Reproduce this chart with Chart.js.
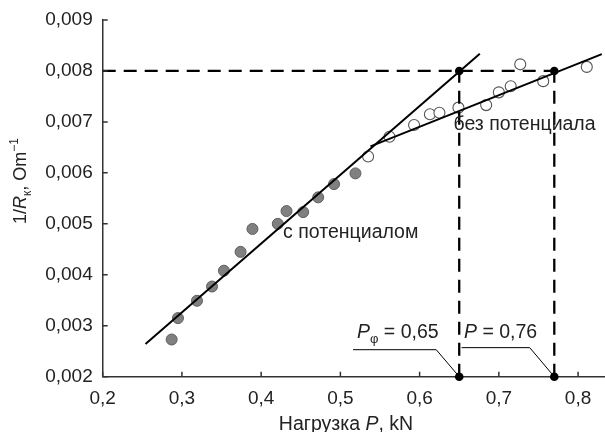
<!DOCTYPE html>
<html><head><meta charset="utf-8">
<script src="https://cdn.jsdelivr.net/npm/chart.js@4/dist/chart.umd.min.js"></script>
<style>html,body{margin:0;padding:0;background:#fff}</style>
</head><body>
<canvas id="c" width="605" height="432"></canvas>
<script>
// ---- data ----
const xTickValues = [0.2, 0.3, 0.4, 0.5, 0.6, 0.7, 0.8];
const yTickValues = [0.002, 0.003, 0.004, 0.005, 0.006, 0.007, 0.008, 0.009];
const withPotentialX = [0.287, 0.295, 0.319, 0.338, 0.353, 0.374, 0.389, 0.421, 0.432, 0.453, 0.472, 0.492, 0.519];
const withPotentialY = [0.00273, 0.00315, 0.00349, 0.00377, 0.00408, 0.00445, 0.00490, 0.00500, 0.00525, 0.00523, 0.00552, 0.00578, 0.00599];
const withoutPotentialX = [0.535, 0.562, 0.593, 0.613, 0.625, 0.649, 0.684, 0.700, 0.715, 0.727, 0.756, 0.811];
const withoutPotentialY = [0.00632, 0.00671, 0.00694, 0.00715, 0.00718, 0.00728, 0.00733, 0.00758, 0.00770, 0.00813, 0.00780, 0.00808];
const fitWithX = [0.254, 0.676];
const fitWithY = [0.00264, 0.00834];
const fitWithoutX = [0.538, 0.830];
const fitWithoutY = [0.00652, 0.00833];
const markerX = [0.65, 0.77];
const markerLevel = 0.008;
const baseLevel = 0.002;
const leaderY = [0.00253, 0.00257];
const leaderStartX = [0.516, 0.653];
const leaderKneeX = [0.621, 0.739];
const labelWith = 'с потенциалом';
const labelWithout = 'без потенциала';
const markerValueText = ['= 0,65', '= 0,76'];
const xTitleParts = ['Нагрузка ', 'P', ', kN'];
const yTitleParts = ['1/', 'R', 'к', ', Om', '−1'];

const FONT = "'Liberation Sans', Arial, sans-serif";
const TXT = '#222';
const FS = 19.5;
const pts = (xs, ys) => xs.map((x, i) => ({x, y: ys[i]}));
const fmt = v => v.toFixed(v < 0.1 ? 3 : 1).replace('.', ',');

const lineDs = (data, opts) => Object.assign({type: 'line', data, showLine: true, pointRadius: 0,
  borderColor: '#000', borderWidth: 2, fill: false, tension: 0}, opts);

const datasets = [
  {data: [...markerX.map(x => ({x, y: markerLevel})), ...markerX.map(x => ({x, y: baseLevel}))],
   pointRadius: 4.3, pointBackgroundColor: '#000', pointBorderColor: '#000', borderWidth: 0, clip: false},
  lineDs(pts(fitWithX, fitWithY)),
  lineDs(pts(fitWithoutX, fitWithoutY)),
  lineDs([{x: 0.2, y: markerLevel}, {x: markerX[1], y: markerLevel}], {borderDash: [13, 8], borderWidth: 2.3}),
  lineDs([{x: markerX[0], y: baseLevel}, {x: markerX[0], y: markerLevel}], {borderDash: [13, 8], borderWidth: 2.3}),
  lineDs([{x: markerX[1], y: baseLevel}, {x: markerX[1], y: markerLevel}], {borderDash: [13, 8], borderWidth: 2.3}),
  lineDs([{x: leaderStartX[0], y: leaderY[0]}, {x: leaderKneeX[0], y: leaderY[0]}, {x: markerX[0], y: baseLevel}], {borderWidth: 1}),
  lineDs([{x: leaderStartX[1], y: leaderY[1]}, {x: leaderKneeX[1], y: leaderY[1]}, {x: markerX[1], y: baseLevel}], {borderWidth: 1}),
  {data: pts(withoutPotentialX, withoutPotentialY), pointRadius: 5.5, pointBackgroundColor: '#fff', pointBorderColor: '#555', pointBorderWidth: 1.1},
  {data: pts(withPotentialX, withPotentialY), pointRadius: 5.5, pointBackgroundColor: '#808080', pointBorderColor: '#5e5e5e', pointBorderWidth: 1},
];

function drawParts(ctx, parts, x, y) {
  const widths = parts.map(p => { ctx.font = (p.italic ? 'italic ' : '') + p.size + 'px ' + FONT; return ctx.measureText(p.t).width; });
  let cx = x - widths.reduce((a, b) => a + b, 0) / 2;
  parts.forEach((p, i) => {
    ctx.font = (p.italic ? 'italic ' : '') + p.size + 'px ' + FONT;
    ctx.fillText(p.t, cx, y + (p.dy || 0));
    cx += widths[i];
  });
}
function drawPartsLeft(ctx, parts, x, y) {
  let cx = x;
  parts.forEach(p => {
    ctx.font = (p.italic ? 'italic ' : '') + p.size + 'px ' + FONT;
    ctx.fillText(p.t, cx, y + (p.dy || 0));
    cx += ctx.measureText(p.t).width;
  });
}

const decor = {
  id: 'decor',
  afterDraw(chart) {
    const {ctx, scales: {x, y}} = chart;
    const ca = chart.chartArea;
    ctx.save();
    ctx.strokeStyle = '#333'; ctx.lineWidth = 1.5;
    ctx.beginPath();
    xTickValues.forEach(v => { const px = x.getPixelForValue(v); ctx.moveTo(px, ca.bottom); ctx.lineTo(px, ca.bottom - 5); });
    yTickValues.forEach(v => { const py = y.getPixelForValue(v); ctx.moveTo(ca.left, py); ctx.lineTo(ca.left + 5, py); });
    ctx.stroke();

    ctx.fillStyle = TXT; ctx.textBaseline = 'alphabetic'; ctx.textAlign = 'left';
    ctx.font = FS + 'px ' + FONT;
    ctx.fillText(labelWith, x.getPixelForValue(0.4277), y.getPixelForValue(0.00472));
    ctx.fillText(labelWithout, x.getPixelForValue(0.6427), y.getPixelForValue(0.00684));

    drawPartsLeft(ctx, [{t: 'P', italic: true, size: FS}, {t: 'φ', size: 13, dy: 5}, {t: ' ' + markerValueText[0], size: FS}],
      x.getPixelForValue(0.521), y.getPixelForValue(0.00275));
    drawPartsLeft(ctx, [{t: 'P', italic: true, size: FS}, {t: ' ' + markerValueText[1], size: FS}],
      x.getPixelForValue(0.656), y.getPixelForValue(0.00275));

    drawParts(ctx, [{t: xTitleParts[0], size: FS}, {t: xTitleParts[1], italic: true, size: FS}, {t: xTitleParts[2], size: FS}],
      346, 429.5);
    ctx.translate(26, 181);
    ctx.rotate(-Math.PI / 2);
    drawParts(ctx, [{t: yTitleParts[0], size: 18}, {t: yTitleParts[1], italic: true, size: 18}, {t: yTitleParts[2], size: 12, dy: 5},
      {t: yTitleParts[3], size: 18}, {t: yTitleParts[4], size: 12, dy: -8}], 0, 0);
    ctx.restore();
  }
};

new Chart(document.getElementById('c'), {
  type: 'scatter',
  data: {datasets},
  plugins: [decor],
  options: {
    responsive: false, animation: false, devicePixelRatio: 1,
    layout: {autoPadding: false, padding: {top: 20, right: 0, left: 0, bottom: 0}},
    plugins: {legend: {display: false}, tooltip: {enabled: false}},
    scales: {
      x: {type: 'linear', min: 0.2, max: 0.834,
        grid: {display: false, drawTicks: false}, border: {display: true, color: '#333', width: 1.5},
        afterFit: s => { s.height = 55.3; s.paddingRight = 0; s.paddingLeft = 0; },
        afterBuildTicks: s => { s.ticks = xTickValues.map(v => ({value: v})); },
        ticks: {padding: 11, color: TXT, font: {family: FONT, size: 19}, callback: v => fmt(v), maxRotation: 0, autoSkip: false}},
      y: {type: 'linear', min: 0.002, max: 0.009,
        grid: {display: false, drawTicks: false}, border: {display: true, color: '#333', width: 1.5},
        afterFit: s => { s.width = 102.7; s.paddingTop = 0; s.paddingBottom = 0; },
        afterBuildTicks: s => { s.ticks = yTickValues.map(v => ({value: v})); },
        ticks: {padding: 10, color: TXT, font: {family: FONT, size: 19}, callback: v => fmt(v), autoSkip: false}}
    }
  }
});
</script>
</body></html>
